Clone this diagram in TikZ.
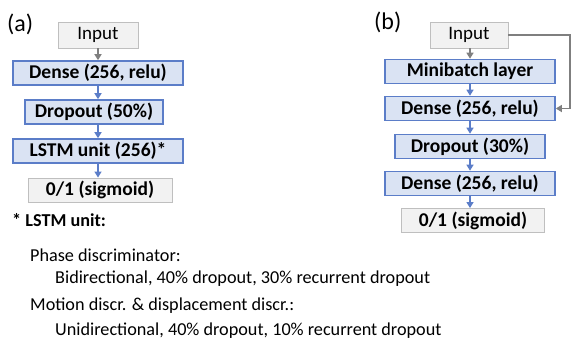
\documentclass[tikz,border=0pt]{standalone}
\usepackage{fontspec}
\setmainfont{Carlito}
\usetikzlibrary{arrows.meta}
\definecolor{bfill}{HTML}{DAE3F3}
\definecolor{bdraw}{HTML}{5B7DC8}
\definecolor{gfill}{HTML}{F2F2F2}
\definecolor{gdraw}{HTML}{BFBFBF}
\definecolor{garrow}{HTML}{7F7F7F}
\begin{document}
\begin{tikzpicture}[x=1pt,y=1pt,
  bbox/.style={draw=bdraw, fill=bfill, line width=1.6pt, inner sep=0pt, minimum height=24pt,
    font=\fontsize{19.5}{19.5}\selectfont\bfseries},
  gbox/.style={draw=gdraw, fill=gfill, line width=0.9pt, inner sep=0pt, minimum height=24pt,
    font=\fontsize{19.5}{19.5}\selectfont\bfseries},
  barr/.style={draw=bdraw, line width=1.3pt, -{Triangle[length=6pt,width=7pt]}},
  garr/.style={draw=garrow, line width=1.3pt, -{Triangle[length=6pt,width=7pt]}},
  note/.style={anchor=west, inner sep=0pt, font=\fontsize{18.2}{18.2}\selectfont},
  lbl/.style={anchor=west, inner sep=0pt, font=\fontsize{24}{24}\selectfont}
]
\useasboundingbox (0,0) rectangle (572,-341);
% (a)
\node[lbl] (la) at (7,-24) {(a)};
\node[gbox, minimum width=80pt, minimum height=26pt, font=\fontsize{19}{19}\selectfont] (ain) at (98,-35) {Input};
\node[bbox, minimum width=170pt] (a1) at (98,-73) {Dense (256, relu)};
\node[bbox, minimum width=138pt] (a2) at (94,-112) {Dropout (50\%)};
\node[bbox, minimum width=170pt] (a3) at (98,-151) {LSTM unit (256)*};
\node[gbox, minimum width=144pt] (a4) at (100,-190) {0/1 (sigmoid)};
\draw[garr] (ain.south) -- (a1.north);
\draw[barr] (a1.south) -- (a1.south |- a2.north);
\draw[barr] (a1.south |- a2.south) -- (a3.north);
\draw[barr] (a3.south) -- (a3.south |- a4.north);
% (b)
\node[lbl] (lb) at (374,-22) {(b)};
\node[gbox, minimum width=78pt, minimum height=26pt, font=\fontsize{19}{19}\selectfont] (bin) at (469,-35) {Input};
\node[bbox, minimum width=170pt] (b1) at (470,-71.5) {Minibatch layer};
\node[bbox, minimum width=170pt] (b2) at (470,-108.5) {Dense (256, relu)};
\node[bbox, minimum width=150pt] (b3) at (470,-146.5) {Dropout (30\%)};
\node[bbox, minimum width=170pt] (b4) at (470,-183.5) {Dense (256, relu)};
\node[gbox, minimum width=143pt] (b5) at (473,-220.5) {0/1 (sigmoid)};
\draw[garr] (bin.south -| b1.north) -- (b1.north);
\draw[barr] (b1.south) -- (b2.north);
\draw[barr] (b2.south) -- (b3.north);
\draw[barr] (b3.south) -- (b4.north);
\draw[barr] (b4.south) -- (b4.south |- b5.north);
\coordinate (fb) at (570,-35);
\draw[garr] (bin.east) -- (fb) |- (b2.east);
% notes
\node[note, font=\fontsize{18.2}{18.2}\selectfont\bfseries] (n0) at (12,-220) {* LSTM unit:};
\node[note] (n1) at (30,-255) {Phase discriminator:};
\node[note] (n2) at (55,-279) {Bidirectional, 40\% dropout, 30\% recurrent dropout};
\node[note] (n3) at (30,-306) {Motion discr. \& displacement discr.:};
\node[note] (n4) at (55,-331) {Unidirectional, 40\% dropout, 10\% recurrent dropout};
\end{tikzpicture}
\end{document}
